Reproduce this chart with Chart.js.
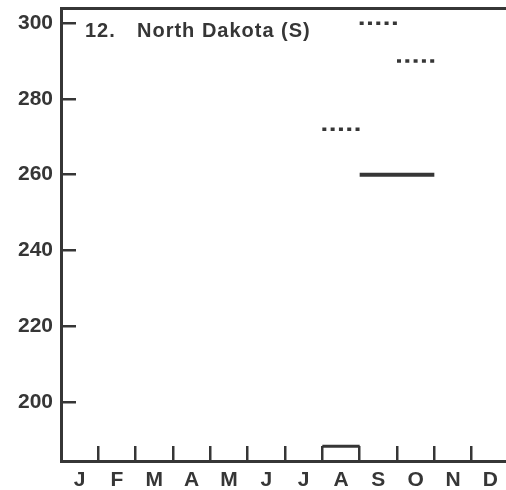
<!DOCTYPE html>
<html>
<head>
<meta charset="utf-8">
<script src="https://cdn.jsdelivr.net/npm/chart.js@4/dist/chart.umd.min.js"></script>
<style>
  html, body { margin: 0; padding: 0; background: #fff; overflow: hidden; }
  #wrap { width: 509px; height: 490px; }
</style>
</head>
<body>
<div id="wrap"><canvas id="chart"></canvas></div>
<script>
const months = ['J', 'F', 'M', 'A', 'M', 'J', 'J', 'A', 'S', 'O', 'N', 'D'];
const yTicks = [200, 220, 240, 260, 280, 300];
const yMin = 184.4;
const yMax = 304;

// each segment: [month position, value] on a 0..12 month scale
const dottedAug = [[7, 272], [8, 272]];
const dottedSep = [[8, 300], [9, 300]];
const dottedOct = [[9, 290], [10, 290]];
const solidSepOct = [[8, 260], [10, 260]];
const augBracket = [[7, 188.3], [8, 188.3]];

const ink = '#363636';

const toPoints = (rows) => rows.map(([x, y]) => ({ x, y }));

const segment = (data, dashed, width) => ({
    data: toPoints(data),
    xAxisID: 'xv',
    yAxisID: 'y',
    borderColor: ink,
    borderWidth: width,
    borderDash: dashed ? [4, 4.3] : [],
    borderCapStyle: 'butt',
    pointRadius: 0,
    fill: false,
    tension: 0,
});

// no extra label padding: the frame is fixed like the printed panel
const pinBox = (size) => (scale) => {
    if (scale.isHorizontal()) {
        scale.height = size;
    } else {
        scale.width = size;
    }
    scale.paddingTop = 0;
    scale.paddingBottom = 0;
    scale.paddingLeft = 0;
    scale.paddingRight = 0;
};

const panelTitle = {
    id: 'panelTitle',
    afterDraw(chart) {
        const { ctx, chartArea } = chart;
        ctx.save();
        ctx.fillStyle = ink;
        ctx.font = 'bold 20px "Liberation Sans", Arial, sans-serif';
        ctx.textBaseline = 'alphabetic';
        ctx.letterSpacing = '1px';
        ctx.fillText('12.', chartArea.left + 24, 37);
        ctx.fillText('North Dakota (S)', chartArea.left + 76, 37);
        ctx.restore();
    },
};

Chart.defaults.font.family = '"Liberation Sans", Arial, sans-serif';
Chart.defaults.font.size = 21;
Chart.defaults.font.weight = 'bold';
Chart.defaults.color = ink;

new Chart(document.getElementById('chart'), {
    type: 'line',
    data: {
        labels: months,
        datasets: [
            segment(dottedAug, true, 3.5),
            segment(dottedSep, true, 3.5),
            segment(dottedOct, true, 3.5),
            segment(solidSepOct, false, 4),
            segment(augBracket, false, 3),
        ],
    },
    plugins: [panelTitle],
    options: {
        responsive: true,
        maintainAspectRatio: false,
        animation: false,
        layout: { padding: 0 },
        plugins: {
            legend: { display: false },
            tooltip: { enabled: false },
        },
        scales: {
            x: {
                type: 'category',
                position: 'bottom',
                offset: true,
                grid: {
                    offset: true,
                    drawOnChartArea: false,
                    tickLength: -15,
                    color: ink,
                    lineWidth: 2.5,
                },
                border: { color: ink, width: 3 },
                ticks: { padding: 22, maxRotation: 0, autoSkip: false },
                afterFit: pinBox(29),
            },
            xv: {
                type: 'linear',
                display: false,
                min: 0,
                max: months.length,
            },
            xt: {
                type: 'linear',
                position: 'top',
                min: 0,
                max: months.length,
                ticks: { display: false },
                grid: { display: false, drawTicks: false },
                border: { color: ink, width: 3 },
                afterFit: pinBox(8),
            },
            y: {
                min: yMin,
                max: yMax,
                afterBuildTicks(scale) {
                    scale.ticks = yTicks.map((value) => ({ value }));
                },
                grid: {
                    drawOnChartArea: false,
                    tickLength: -15,
                    color: ink,
                    lineWidth: 2.5,
                },
                border: { color: ink, width: 3 },
                ticks: { padding: 23 },
                afterFit: pinBox(61),
            },
        },
    },
});
</script>
</body>
</html>
